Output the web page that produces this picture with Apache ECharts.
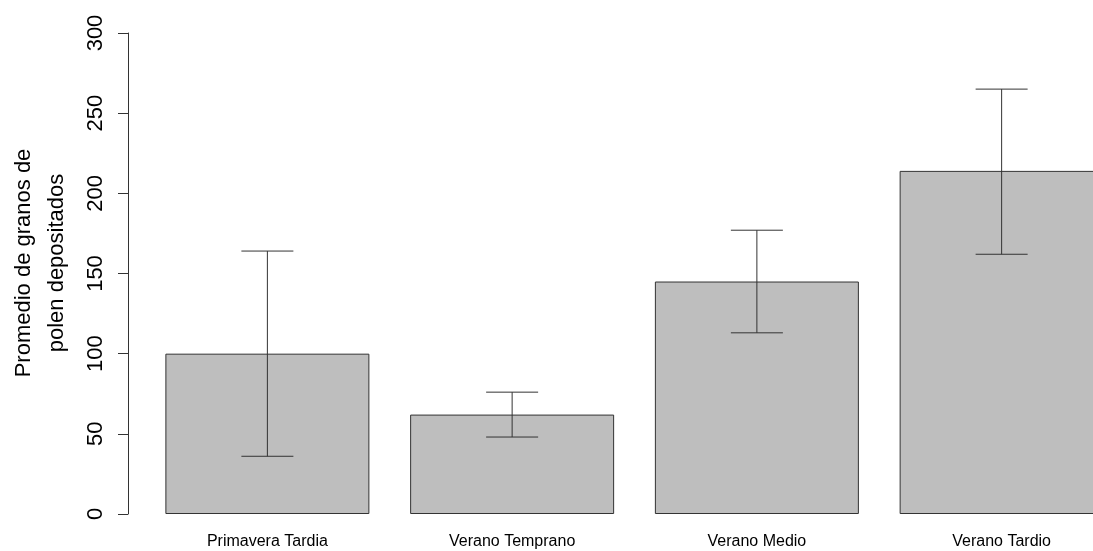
<!DOCTYPE html>
<html>
<head>
<meta charset="utf-8">
<script src="https://cdn.jsdelivr.net/npm/echarts@6/dist/echarts.min.js"></script>
<style>
    html, body { margin: 0; padding: 0; background: #fff; }
    #chart { width: 1093px; height: 551px; }
</style>
</head>
<body>
<div id="chart"></div>
<script>
var categories = ['Primavera Tardia', 'Verano Temprano', 'Verano Medio', 'Verano Tardio'];
var means = [100, 62, 145, 214];
var lower = [36, 48, 113, 162];
var upper = [164, 76, 177, 265];
var yTicks = [0, 50, 100, 150, 200, 250, 300];

initBarplot();

//barras con barras de error
function initBarplot() {
    var chart = echarts.init(document.getElementById('chart'));
    var errData = [];
    for (var i = 0; i < categories.length; i++) {
        errData.push([i, lower[i], upper[i]]);
    }
    var option = {
        animation: false,
        backgroundColor: '#fff',
        // la ultima barra queda cortada por el borde derecho, como en el original
        grid: { left: 145, width: 979, top: 33, bottom: 37, outerBoundsMode: 'none', containLabel: false },
        xAxis: {
            type: 'category',
            data: categories,
            axisLine: { show: false },
            axisTick: { show: false },
            axisLabel: {
                margin: 20,
                fontFamily: 'Liberation Sans',
                fontSize: 16,
                color: '#000'
            }
        },
        yAxis: {
            type: 'value',
            min: yTicks[0],
            max: yTicks[yTicks.length - 1],
            interval: yTicks[1] - yTicks[0],
            offset: 17,
            name: 'Promedio de granos de\npolen depositados',
            nameLocation: 'middle',
            nameRotate: 90,
            nameGap: 55,
            nameTextStyle: {
                fontFamily: 'Liberation Sans',
                fontSize: 22,
                lineHeight: 33,
                color: '#000',
                padding: [0, 0, 0, 21]
            },
            splitLine: { show: false },
            axisLine: { show: true, lineStyle: { color: '#333', width: 1 } },
            axisTick: { show: true, length: 10, lineStyle: { color: '#333' } },
            axisLabel: {
                rotate: 90,
                margin: 21,
                fontFamily: 'Liberation Sans',
                fontSize: 22,
                color: '#000'
            }
        },
        series: [{
            type: 'bar',
            data: means,
            barWidth: 204,
            itemStyle: { color: '#bebebe', borderColor: '#333', borderWidth: 1 }
        }, {
            type: 'custom',
            data: errData,
            z: 5,
            renderItem: function(params, api) {
                var lo = api.coord([api.value(0), api.value(1)]);
                var hi = api.coord([api.value(0), api.value(2)]);
                var hw = 26;
                var st = { stroke: '#333', lineWidth: 1 };
                return {
                    type: 'group',
                    children: [
                        { type: 'line', shape: { x1: hi[0], y1: hi[1], x2: lo[0], y2: lo[1] }, style: st },
                        { type: 'line', shape: { x1: hi[0] - hw, y1: hi[1], x2: hi[0] + hw, y2: hi[1] }, style: st },
                        { type: 'line', shape: { x1: lo[0] - hw, y1: lo[1], x2: lo[0] + hw, y2: lo[1] }, style: st }
                    ]
                };
            }
        }]
    };
    chart.setOption(option);
}
</script>
</body>
</html>
